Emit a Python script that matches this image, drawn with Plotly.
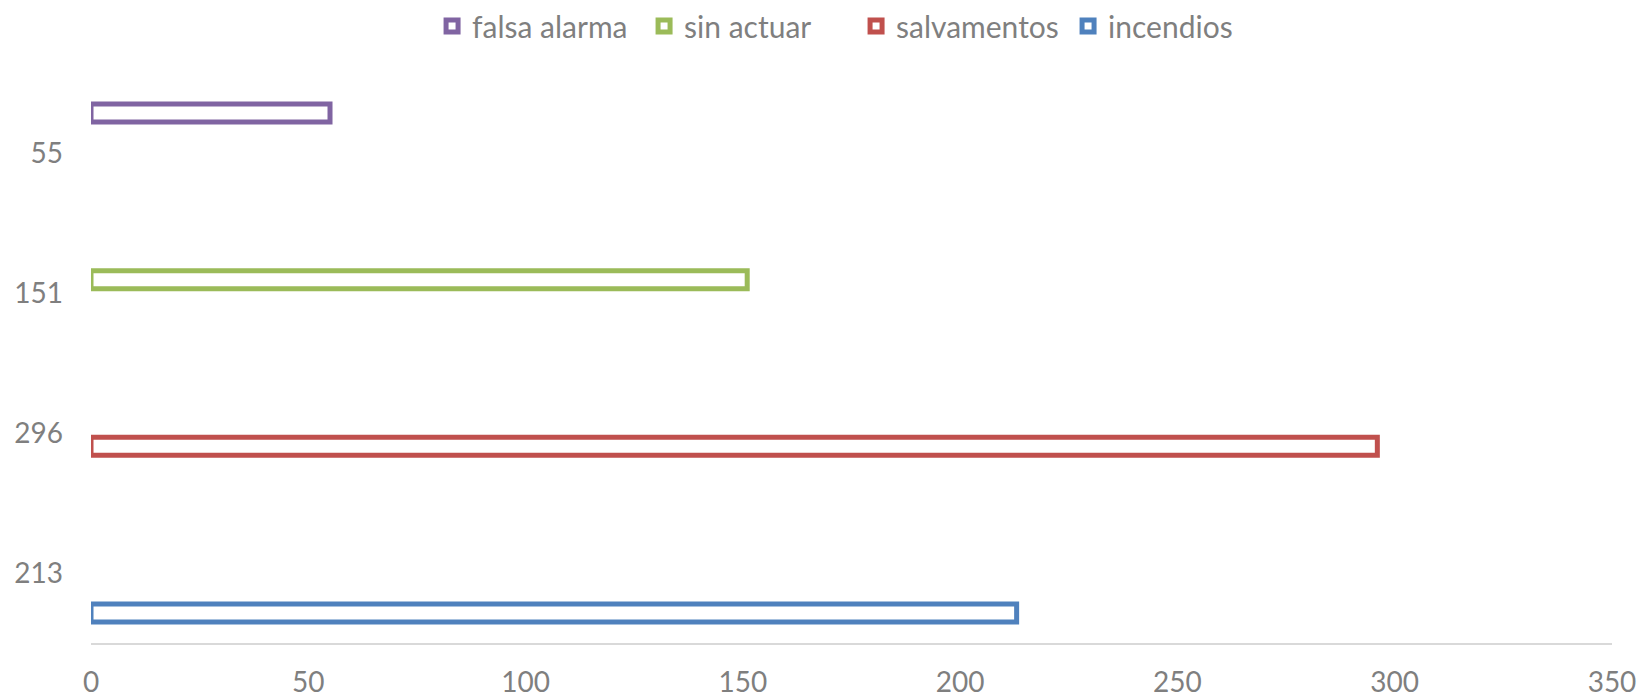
import plotly.graph_objects as go

# Data (bottom to top)
series = ["incendios", "salvamentos", "sin actuar", "falsa alarma"]
values = [213, 296, 151, 55]
colors = ["#4F81BD", "#C0504D", "#9BBB59", "#8064A2"]
axis_labels = [str(v) for v in values]  # category labels shown on the left axis
x_ticks = [0, 50, 100, 150, 200, 250, 300, 350]

FONT = dict(family="Lato", size=28, color="#7F7F7F")
LEG_FONT = dict(family="Lato", size=30, color="#7F7F7F")

fig = go.Figure()

# invisible trace that carries the left-hand category labels
fig.add_trace(go.Scatter(
    x=[0] * len(axis_labels), y=axis_labels, mode="markers",
    marker=dict(opacity=0), showlegend=False, hoverinfo="skip",
    xaxis="x", yaxis="y",
))

# bars, added in legend order (top series first)
for name, val, col in reversed(list(zip(series, values, colors))):
    fig.add_trace(go.Bar(
        x=[val], y=[name], orientation="h", name=name,
        marker=dict(color="white", line=dict(color=col, width=5)),
        width=0.108, xaxis="x", yaxis="y2",
    ))

fig.update_layout(
    width=1643, height=698,
    margin=dict(l=91, r=31, t=83, b=55, autoexpand=False),
    paper_bgcolor="white", plot_bgcolor="white",
    font=FONT,
    showlegend=True,
    legend=dict(orientation="h", x=0.503, xanchor="center", y=1.0, yanchor="top",
                yref="container", entrywidth=167, entrywidthmode="pixels",
                font=LEG_FONT, traceorder="normal", bgcolor="rgba(0,0,0,0)"),
    xaxis=dict(range=[0, 350], tickvals=x_ticks, showgrid=False, zeroline=False,
               showline=True, linecolor="#D9D9D9", linewidth=1.5, automargin=False,
               ticks="", ticklabelstandoff=14, tickfont=FONT),
    yaxis=dict(type="category", categoryorder="array", categoryarray=axis_labels,
               range=[-0.5, len(axis_labels) - 0.5], showgrid=False, zeroline=False,
               showline=False, ticks="", ticklabelstandoff=27, tickfont=FONT,
               automargin=False),
    yaxis2=dict(type="category", categoryorder="array", categoryarray=series,
                overlaying="y", range=[-0.18, 3.18], showgrid=False, zeroline=False,
                showline=False, showticklabels=False, ticks="", automargin=False),
)

fig.write_html(
    "out.html",
    config={"displayModeBar": False},
    post_script="document.body.style.margin='0';document.body.style.overflow='hidden';",
)
